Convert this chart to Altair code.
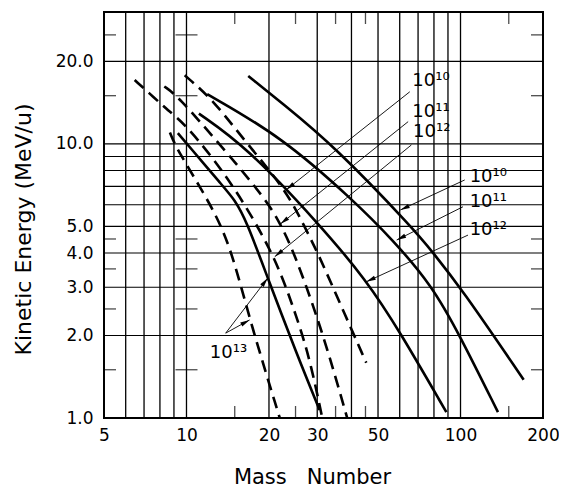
import math
import altair as alt
import pandas as pd

# ---------------- data ----------------
X_LABELS = [5, 10, 20, 30, 50, 100, 200]
Y_LABELS = [1, 2, 3, 4, 5, 10, 20]
X_GRID = [6, 7, 8, 9, 10, 20, 30, 40, 50, 60, 70, 80, 90, 100]
Y_GRID = [2, 3, 4, 5, 6, 7, 8, 9, 10, 20]
X_MINOR = [15, 25, 35, 45, 150]
Y_MINOR = [1.5, 2.5, 3.5, 4.5, 15, 25]

# solid curves
s10_x = [16.8, 22.3, 34.8, 68, 78.3, 100, 170]
s10_y = [17.7, 14.1, 9.78, 4.85, 4.08, 3.0, 1.38]
s11_x = [11.9, 22.3, 40.5, 56.7, 78.3, 98.5, 137]
s11_y = [15.2, 10.6, 6.25, 4.46, 3.06, 2.04, 1.05]
s12_x = [11.1, 16.5, 30.2, 45.3, 60, 88.8]
s12_y = [12.9, 9.78, 5.16, 3.19, 2.07, 1.05]
s13_x = [9.3, 10.0, 13.6, 15.0, 16.5, 19.8, 25.2, 30.6]
s13_y = [10.95, 10.06, 7.0, 6.25, 5.28, 3.24, 1.72, 1.07]

# dashed curves
d10_x = [9.85, 12.5, 16.5, 23.1, 27.2, 30.2, 35.9, 45.3]
d10_y = [17.8, 14.5, 10.1, 6.8, 4.9, 3.99, 2.69, 1.59]
d11_x = [8.3, 9.2, 13.2, 19.6, 22.0, 24.5, 31.0, 38.6]
d11_y = [16.2, 15.1, 10.0, 6.25, 5.1, 4.1, 2.15, 1.0]
d12_x = [6.47, 7.6, 8.6, 9.8, 12.6, 16.0, 21.0, 24.5, 28.0, 31.3]
d12_y = [17.1, 14.8, 13.2, 11.9, 8.8, 6.25, 3.88, 2.55, 1.7, 1.0]
d13_x = [8.7, 9.2, 12.0, 14.4, 17.0, 21.9]
d13_y = [11.0, 9.6, 6.25, 4.34, 2.28, 1.0]

# labels
lab_text = ["10¹⁰", "10¹¹", "10¹²", "10¹⁰", "10¹¹", "10¹²", "10¹³"]
lab_x = [66.7, 66.7, 67.1, 108, 108, 108, 12.16]
lab_y = [16.9, 13.1, 11.1, 7.6, 6.16, 4.85, 1.73]

# arrows (start -> tip)
arr_x1 = [65.3, 64.4, 66.2, 103.6, 102.1, 106.5, 13.9, 13.9]
arr_y1 = [15.5, 12.06, 9.92, 7.39, 5.9, 4.65, 2.04, 2.04]
arr_x2 = [23.1, 22.0, 21.0, 60.3, 58.5, 45.3, 19.8, 17.0]
arr_y2 = [6.8, 5.1, 3.88, 5.74, 4.46, 3.14, 3.24, 2.28]

# ---------------- tables ----------------
rows = []
for name, style, xs_, ys_ in [
    ("s10", "solid", s10_x, s10_y), ("s11", "solid", s11_x, s11_y),
    ("s12", "solid", s12_x, s12_y), ("s13", "solid", s13_x, s13_y),
    ("d10", "dashed", d10_x, d10_y), ("d11", "dashed", d11_x, d11_y),
    ("d12", "dashed", d12_x, d12_y), ("d13", "dashed", d13_x, d13_y)]:
    for i, (a, b) in enumerate(zip(xs_, ys_)):
        rows.append({"curve": name, "style": style, "i": i, "x": a, "y": b})
curves = pd.DataFrame(rows)

arrows = pd.DataFrame({"x": arr_x1, "y": arr_y1, "x2": arr_x2, "y2": arr_y2})
arrows["ang"] = [
    (math.degrees(math.atan2(math.log10(b / a), math.log10(d / c))) + 360) % 360
    for a, b, c, d in zip(arr_x1, arr_x2, arr_y1, arr_y2)]
labels = pd.DataFrame({"t": lab_text, "x": lab_x, "y": lab_y})

FONT = "DejaVu Sans"
xsc = alt.Scale(type="log", domain=[5, 200], nice=False)
ysc = alt.Scale(type="log", domain=[1, 30.3], nice=False)

x_axis = alt.Axis(values=X_LABELS, title="Mass\u00a0\u00a0\u00a0Number", grid=False,
                  ticks=False, domain=False, labelFontSize=17, labelPadding=9,
                  labelExpr="format(datum.value, 'd')", titleFontSize=21,
                  titlePadding=23, titleX=208, labelFlush=False)
y_axis = alt.Axis(values=Y_LABELS, title="Kinetic Energy (MeV/u)", grid=False,
                  ticks=False, domain=False, labelFontSize=17, labelPadding=11,
                  labelExpr="format(datum.value, '.1f')", titleFontSize=22,
                  titlePadding=20, titleY=217, labelFlush=False)


def X(field):
    return alt.X(field, type="quantitative", scale=xsc, axis=x_axis)


def Y(field):
    return alt.Y(field, type="quantitative", scale=ysc, axis=y_axis)


gx = alt.Chart(pd.DataFrame({"x": X_GRID})).mark_rule(
    color="black", strokeWidth=1.3).encode(x=X("x"))
gy = alt.Chart(pd.DataFrame({"y": Y_GRID})).mark_rule(
    color="black", strokeWidth=1.2).encode(y=Y("y"))

edge_y = pd.DataFrame([{"x": xv, "y": yv} for xv in [5, 200] for yv in Y_MINOR])
mid_y = pd.DataFrame([{"x": 10, "y": yv} for yv in Y_MINOR])
edge_x = pd.DataFrame([{"x": xv, "y": yv} for yv in [1, 30.3] for xv in X_MINOR])

tk1 = alt.Chart(edge_y).mark_tick(orient="horizontal", size=24, thickness=1.3,
                                  color="black", clip=True).encode(x=X("x"), y=Y("y"))
tk2 = alt.Chart(mid_y).mark_tick(orient="horizontal", size=22, thickness=1.3,
                                 color="black", clip=True).encode(x=X("x"), y=Y("y"))
tk3 = alt.Chart(edge_x).mark_tick(orient="vertical", size=24, thickness=1.3,
                                  color="black", clip=True).encode(x=X("x"), y=Y("y"))

solid = alt.Chart(curves[curves["style"] == "solid"]).mark_line(
    color="black", strokeWidth=2.6, interpolate="basis", clip=True).encode(
    x=X("x"), y=Y("y"), detail="curve:N", order="i:Q")
dashed = alt.Chart(curves[curves["style"] == "dashed"]).mark_line(
    color="black", strokeWidth=2.6, strokeDash=[12, 7], interpolate="basis",
    clip=True).encode(x=X("x"), y=Y("y"), detail="curve:N", order="i:Q")

arr = alt.Chart(arrows).mark_rule(color="black", strokeWidth=0.9).encode(
    x=X("x"), y=Y("y"), x2="x2:Q", y2="y2:Q")
heads = alt.Chart(arrows).mark_point(
    shape="M0,0L0.5,2.2L-0.5,2.2Z", filled=True, color="black", size=75,
    opacity=1).encode(x=X("x2"), y=Y("y2"), angle=alt.Angle("ang:Q", scale=None))

txt = alt.Chart(labels).mark_text(align="left", baseline="middle", fontSize=18,
                                  font=FONT, color="black").encode(
    x=X("x"), y=Y("y"), text="t:N")

chart = alt.layer(gx, gy, tk1, tk2, tk3, solid, dashed, arr, heads, txt).properties(
    width=439, height=406,
    autosize=alt.AutoSizeParams(type="none"),
    padding={"left": 96, "top": 4, "right": 16, "bottom": 70},
    background="white",
).configure_view(stroke="black", strokeWidth=2).configure_axis(
    labelFont=FONT, titleFont=FONT, labelColor="black", titleColor="black",
    titleFontWeight="normal")

chart.save("out.html", embed_options={"renderer": "svg", "actions": False})
